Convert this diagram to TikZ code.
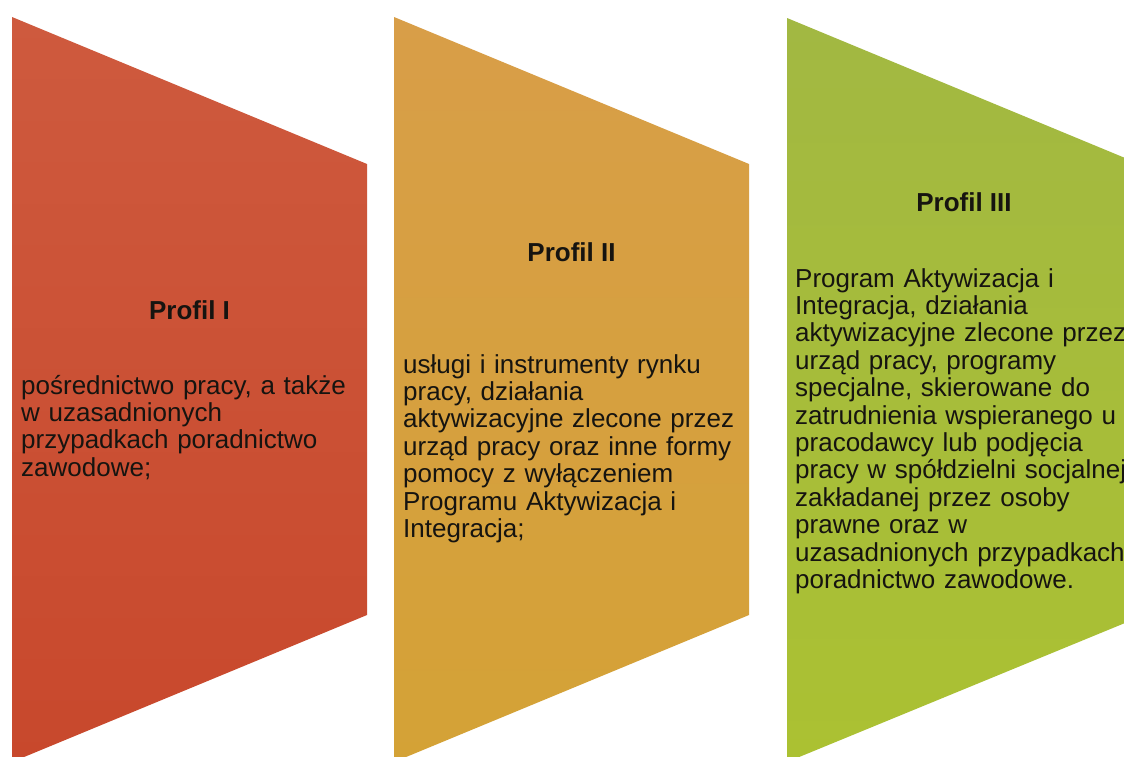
\documentclass[tikz,border=0pt]{standalone}
\usepackage{fontspec}
\setmainfont{Liberation Sans}
\definecolor{redtop}{RGB}{206,90,62}
\definecolor{redbot}{RGB}{200,72,44}
\definecolor{goldtop}{RGB}{216,158,72}
\definecolor{goldbot}{RGB}{212,162,54}
\definecolor{greentop}{RGB}{162,184,66}
\definecolor{greenbot}{RGB}{171,193,50}
\definecolor{inktext}{RGB}{22,20,16}
\tikzset{
  panel/.style={draw=none},
  title/.style={anchor=base, inner sep=0pt, text=inktext,
    font=\fontsize{26}{27.4}\selectfont\bfseries},
  body/.style={anchor=base west, inner sep=0pt, text=inktext, align=left,
    text width=400pt, font=\fontsize{26}{27.4}\selectfont}
}
\begin{document}
\begin{tikzpicture}[x=1pt,y=-1pt]
\useasboundingbox (0,0) rectangle (1124,756);
\fill[white] (0,0) rectangle (1124,756);
\clip (0,0) rectangle (1124,756);
% panels
\shade[panel, top color=redtop, bottom color=redbot]
  (12,17) -- (367,164) -- (367,615) -- (12,762) -- cycle;
\shade[panel, top color=goldtop, bottom color=goldbot]
  (394,17) -- (749,164) -- (749,615) -- (394,762) -- cycle;
\shade[panel, top color=greentop, bottom color=greenbot]
  (787,18) -- (1142,165) -- (1142,616) -- (787,762) -- cycle;
% titles
\node[title] (t1) at (189.5,319) {Profil I};
\node[title] (t2) at (571.5,261) {Profil II};
\node[title] (t3) at (964,211) {Profil III};
% bodies
\node[body] (b1) at (21,394) {pośrednictwo pracy, a także\\
w uzasadnionych\\
przypadkach poradnictwo\\
zawodowe;};
\node[body] (b2) at (403,373) {usługi i instrumenty rynku\\
pracy, działania\\
aktywizacyjne zlecone przez\\
urząd pracy oraz inne formy\\
pomocy z wyłączeniem\\
Programu Aktywizacja i\\
Integracja;};
\node[body] (b3) at (795,287) {Program Aktywizacja i\\
Integracja, działania\\
aktywizacyjne zlecone przez\\
urząd pracy, programy\\
specjalne, skierowane do\\
zatrudnienia wspieranego u\\
pracodawcy lub podjęcia\\
pracy w spółdzielni socjalnej\\
zakładanej przez osoby\\
prawne oraz w\\
uzasadnionych przypadkach\\
poradnictwo zawodowe.};
\end{tikzpicture}
\end{document}
